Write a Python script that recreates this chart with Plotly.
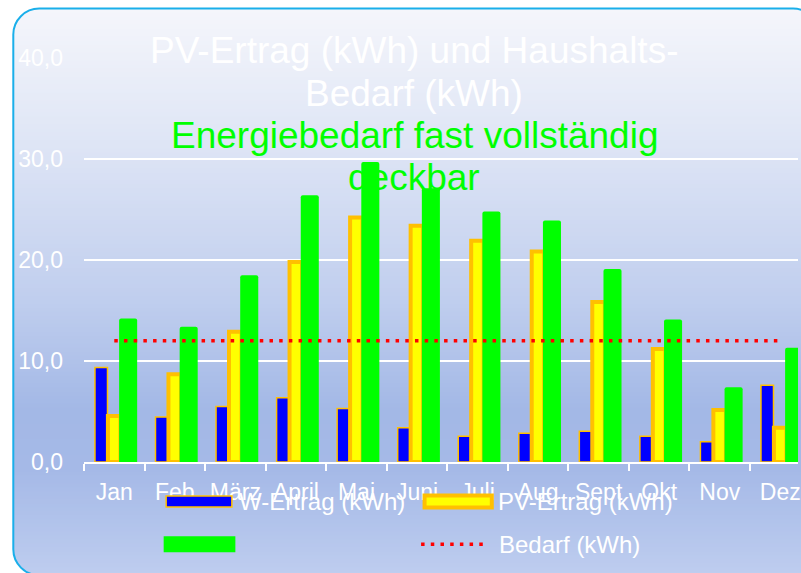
import plotly.graph_objects as go

# ---------------- data ----------------
months = ["Jan", "Feb", "März", "April", "Mai", "Juni", "Juli", "Aug", "Sept", "Okt", "Nov", "Dez"]
w_ertrag = [9.35, 4.45, 5.5, 6.35, 5.3, 3.4, 2.55, 2.85, 3.05, 2.55, 2.0, 7.6]
pv_ertrag = [4.55, 8.7, 12.9, 19.8, 24.2, 23.4, 21.9, 20.85, 15.85, 11.2, 5.15, 3.4]
verbrauch = [14.2, 13.4, 18.5, 26.4, 29.7, 27.1, 24.8, 23.9, 19.1, 14.1, 7.4, 11.3]
bedarf = [12.0, 12.0, 12.0, 12.0, 12.0, 12.0, 12.0, 12.0, 12.0, 12.0, 12.0, 12.0]
y_tickvals = [0, 10, 20, 30, 40]
y_ticktext = ["0,0", "10,0", "20,0", "30,0", "40,0"]

title_lines = ["PV-Ertrag (kWh) und Haushalts-", "Bedarf (kWh)"]
subtitle_lines = ["Energiebedarf fast vollständig", "deckbar"]
legend_labels = ["W-Ertrag (kWh)", "PV-Ertrag (kWh)", "Bedarf (kWh)"]

# ---------------- geometry (pixels) ----------------
W, H = 801, 573
PL, PR, PT, PB = 84, 801, 57.5, 462.5   # plot area in pixels
FONT = "Liberation Sans, Arial, sans-serif"


def px(x):
    return (x - PL) / (PR - PL)


def py(y):
    return (PB - y) / (PB - PT)


fig = go.Figure()

fig.add_trace(go.Bar(
    x=months, y=w_ertrag, name=legend_labels[0],
    marker=dict(color="#0000FF", line=dict(color="#FFC000", width=1.5)),
    offset=-0.319, width=0.207, showlegend=False,
))
fig.add_trace(go.Bar(
    x=months, y=pv_ertrag, name=legend_labels[1],
    marker=dict(color="#FFFF00", line=dict(color="#FFC000", width=4)),
    offset=-0.105, width=0.207, showlegend=False,
))
fig.add_trace(go.Bar(
    x=months, y=verbrauch, name="",
    marker=dict(color="#00FF00", line=dict(width=0), cornerradius=2),
    offset=0.08, width=0.298, showlegend=False,
))
fig.add_trace(go.Scatter(
    x=months, y=bedarf, name=legend_labels[2], mode="lines",
    line=dict(color="#FF0000", width=3.5, dash="3.5px,6.2px"),
    showlegend=False,
))

# ---------------- background gradient & frame ----------------
shapes = []
stops = [(8, (245, 246, 251)), (150, (221, 228, 245)), (300, (192, 206, 238)),
         (410, (163, 184, 230)), (470, (165, 185, 231)), (576, (190, 205, 239))]


def color_at(y):
    for (y0, c0), (y1, c1) in zip(stops[:-1], stops[1:]):
        if y0 <= y <= y1:
            t = (y - y0) / (y1 - y0)
            return "rgb(%d,%d,%d)" % tuple(round(a + (b - a) * t) for a, b in zip(c0, c1))
    return "rgb(%d,%d,%d)" % stops[-1][1]


FX0, FY0, FX1, FY1, R = 13, 8, 822, 576, 26
step = 4
y = FY0
while y < FY1:
    shapes.append(dict(type="rect", xref="paper", yref="paper", layer="below",
                       x0=px(FX0), x1=px(FX1), y0=py(y), y1=py(min(y + step + 1, FY1)),
                       fillcolor=color_at(y + step / 2), line=dict(width=0)))
    y += step

k = 0.45


def mask(cx, cy, sx, sy):
    # white area outside a rounded corner at (cx, cy); sx/sy point into the box
    p = [(cx - 3 * sx, cy - 3 * sy), (cx + R * sx, cy - 3 * sy), (cx + R * sx, cy),
         (cx + R * k * sx, cy), (cx, cy + R * k * sy), (cx, cy + R * sy), (cx - 3 * sx, cy + R * sy)]
    path = "M%f,%f L%f,%f L%f,%f C%f,%f %f,%f %f,%f L%f,%f Z" % (
        px(p[0][0]), py(p[0][1]), px(p[1][0]), py(p[1][1]), px(p[2][0]), py(p[2][1]),
        px(p[3][0]), py(p[3][1]), px(p[4][0]), py(p[4][1]), px(p[5][0]), py(p[5][1]),
        px(p[6][0]), py(p[6][1]))
    return dict(type="path", xref="paper", yref="paper", layer="below", path=path,
                fillcolor="white", line=dict(width=0))


shapes.append(mask(FX0, FY0, 1, 1))
shapes.append(mask(FX0, FY1, 1, -1))
shapes.append(mask(FX1, FY0, -1, 1))

frame = ("M{a},{b} L{c},{b} C{d},{b} {e},{f} {e},{g} L{e},{h} C{e},{i} {d},{j} {c},{j} "
         "L{a},{j} C{k2},{j} {l},{i} {l},{h} L{l},{g} C{l},{f} {k2},{b} {a},{b} Z").format(
    a=px(FX0 + R), b=py(FY0), c=px(FX1 - R), d=px(FX1 - R * k), e=px(FX1), f=py(FY0 + R * k),
    g=py(FY0 + R), h=py(FY1 - R), i=py(FY1 - R * k), j=py(FY1), k2=px(FX0 + R * k), l=px(FX0))
shapes.append(dict(type="path", xref="paper", yref="paper", layer="below", path=frame,
                   line=dict(color="#1AAFEA", width=2)))

# ---------------- legend keys ----------------
shapes.append(dict(type="rect", xref="paper", yref="paper", x0=px(166.5), x1=px(232.5),
                   y0=py(496.5), y1=py(507.5), fillcolor="#0000FF",
                   line=dict(color="#FFC000", width=1.5)))
shapes.append(dict(type="rect", xref="paper", yref="paper", x0=px(426), x1=px(493.5),
                   y0=py(496), y1=py(508), fillcolor="#FFFF00",
                   line=dict(color="#FFC000", width=4)))
shapes.append(dict(type="rect", xref="paper", yref="paper", x0=px(164), x1=px(236),
                   y0=py(537), y1=py(553), fillcolor="#00FF00", line=dict(width=0)))
shapes.append(dict(type="line", xref="paper", yref="paper", x0=px(422.5), x1=px(488),
                   y0=py(545), y1=py(545), line=dict(color="#FF0000", width=3.5, dash="3.5px,6.2px")))

annotations = []
for txt, yb in zip(title_lines, [63.3, 106]):
    annotations.append(dict(text=txt, xref="paper", yref="paper", x=px(415.5), y=py(yb - 13),
                            xanchor="center", yanchor="middle", showarrow=False,
                            font=dict(family=FONT, size=37, color="white")))
for txt, yb in zip(subtitle_lines, [147.7, 190.7]):
    annotations.append(dict(text=txt, xref="paper", yref="paper", x=px(415.5), y=py(yb - 13),
                            xanchor="center", yanchor="middle", showarrow=False,
                            font=dict(family=FONT, size=37, color="#00FF00")))
for txt, (lx, ly) in zip(legend_labels, [(238, 502), (498, 502), (499, 545)]):
    annotations.append(dict(text=txt, xref="paper", yref="paper", x=px(lx), y=py(ly),
                            xanchor="left", yanchor="middle", showarrow=False,
                            font=dict(family=FONT, size=24, color="white")))

fig.update_layout(
    width=W, height=H,
    margin=dict(l=PL, r=W - PR, t=PT, b=H - PB, pad=0),
    paper_bgcolor="white", plot_bgcolor="rgba(0,0,0,0)",
    barmode="overlay", shapes=shapes, annotations=annotations,
    font=dict(family=FONT, color="white"),
    xaxis=dict(type="category", range=[-0.5, -0.5 + (PR - PL) / 60.8],
               showline=True, linecolor="white", linewidth=2,
               ticks="outside", ticklen=7, tickwidth=2, tickcolor="white",
               tickson="boundaries", showgrid=False, ticklabelstandoff=8, tickangle=0,
               tickfont=dict(family=FONT, size=23, color="white")),
    yaxis=dict(range=[0, 40], tickvals=y_tickvals, ticktext=y_ticktext,
               showgrid=True, gridcolor="white", gridwidth=2, zeroline=False,
               showline=False, ticks="", ticklabelstandoff=20,
               tickfont=dict(family=FONT, size=23, color="white")),
)

fig.write_html("out.html",
               config={"displayModeBar": False},
               post_script="document.body.style.margin='0';document.body.style.overflow='hidden';")
